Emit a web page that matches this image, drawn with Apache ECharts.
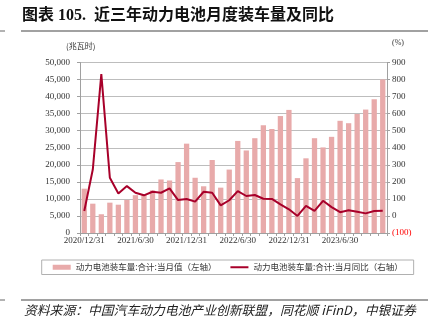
<!DOCTYPE html>
<html><head><meta charset="utf-8">
<script src="https://cdn.jsdelivr.net/npm/echarts@6/dist/echarts.min.js"></script>
<style>html,body{margin:0;padding:0;background:#fff}#c{width:430px;height:327px}</style>
</head><body><div id="c"></div>
<script>
const categories = ["2020/12/31","2021/1/31","2021/2/28","2021/3/31","2021/4/30","2021/5/31","2021/6/30","2021/7/31","2021/8/31","2021/9/30","2021/10/31","2021/11/30","2021/12/31","2022/1/31","2022/2/28","2022/3/31","2022/4/30","2022/5/31","2022/6/30","2022/7/31","2022/8/31","2022/9/30","2022/10/31","2022/11/30","2022/12/31","2023/1/31","2023/2/28","2023/3/31","2023/4/30","2023/5/31","2023/6/30","2023/7/31","2023/8/31","2023/9/30","2023/10/31","2023/11/30"];
const monthlyMWh = [13000,8600,5500,8900,8300,9700,11100,11300,12500,15700,15400,20800,26200,16200,13700,21400,13300,18600,27000,24200,27800,31600,30500,34300,36100,16100,21900,27800,25100,28200,32900,32200,34900,36200,39200,45000];
const yoyPct = [29,272,832,224,132,175,136,121,142,136,162,93,99,84,142,136,62,92,146,117,123,101,100,68,39,0,59,30,89,52,22,33,25,15,29,31];
const barName = "动力电池装车量:合计:当月值（左轴）";
const lineName = "动力电池装车量:合计:当月同比（右轴）";
const titleText = "图表 105.  近三年动力电池月度装车量及同比";
const sourceText = "资料来源：中国汽车动力电池产业创新联盟，同花顺 iFinD，中银证券";

const serif = "'Liberation Serif','Noto Sans CJK SC'";
const cjk = "'Noto Sans CJK SC'";
const chart = echarts.init(document.getElementById('c'), null, {renderer:'canvas'});
chart.setOption({
  animation:false,
  grid:{left:80,right:43,top:62.5,bottom:94,containLabel:false},
  legend:{
    left:41.7, top:260, orient:'horizontal',
    borderColor:'#b0b0b0', borderWidth:1, borderRadius:0,
    padding:[3,11,3,11], itemGap:14, itemWidth:18, itemHeight:5,
    textStyle:{fontSize:8.5,fontFamily:cjk,color:'#333'},
    data:[{name:barName,icon:'rect'},{name:lineName,icon:'path://M0 0H18V2H0Z'}]
  },
  xAxis:{
    type:'category', data:categories, boundaryGap:true,
    axisLine:{lineStyle:{color:'#a0a0a0',width:1}},
    axisTick:{show:true,interval:0,alignWithLabel:false,length:3,lineStyle:{color:'#a0a0a0'}},
    axisLabel:{interval:5,margin:3,fontSize:9,fontFamily:serif,color:'#333'},
    splitLine:{show:false}
  },
  yAxis:[{
    type:'value', min:0, max:50000, interval:5000,
    axisLine:{show:true,lineStyle:{color:'#a0a0a0'}},
    axisTick:{show:true,length:3,lineStyle:{color:'#a0a0a0'}},
    axisLabel:{margin:10,fontSize:9,fontFamily:serif,color:'#333',
      formatter:v=>v.toLocaleString('en-US')},
    splitLine:{show:true,lineStyle:{color:'#bdbdbd',width:1}}
  },{
    type:'value', min:-100, max:900, interval:100, position:'right',
    axisLine:{show:true,lineStyle:{color:'#a0a0a0'}},
    axisTick:{show:true,length:3,lineStyle:{color:'#a0a0a0'}},
    axisLabel:{margin:5,fontSize:9,fontFamily:serif,color:'#333',
      formatter:v=>v<0?'{neg|('+(-v)+')}':String(v),
      rich:{neg:{color:'#ff0000',fontSize:9,fontFamily:serif}}},
    splitLine:{show:false}
  }],
  series:[{
    name:barName, type:'bar', yAxisIndex:0, data:monthlyMWh,
    barWidth:'62%', itemStyle:{color:'#e8aaaa'}
  },{
    name:lineName, type:'line', yAxisIndex:1, data:yoyPct,
    symbol:'none', smooth:false, z:5,
    lineStyle:{color:'#a8002a',width:2}, itemStyle:{color:'#a8002a'}
  }],
  graphic:[
    {type:'text', left:22, top:8, style:{text:titleText, font:"bold 16px "+serif, fill:'#111'}},
    {type:'line', shape:{x1:21,y1:31,x2:428,y2:31}, style:{stroke:'#444',lineWidth:1.2}},
    {type:'line', shape:{x1:0,y1:31,x2:5,y2:31}, style:{stroke:'#666',lineWidth:1}},
    {type:'text', left:66, top:42, style:{text:'(兆瓦时)', font:"8px "+cjk, fill:'#333'}},
    {type:'text', left:392, top:39, style:{text:'(%)', font:"8px "+serif, fill:'#333'}},
    {type:'line', shape:{x1:21,y1:300,x2:428,y2:300}, style:{stroke:'#444',lineWidth:1.2}},
    {type:'line', shape:{x1:0,y1:300,x2:5,y2:300}, style:{stroke:'#666',lineWidth:1}},
    {type:'text', left:24, top:304, style:{text:sourceText, font:"italic 12.8px "+cjk, fill:'#222'}}
  ]
});
</script></body></html>
